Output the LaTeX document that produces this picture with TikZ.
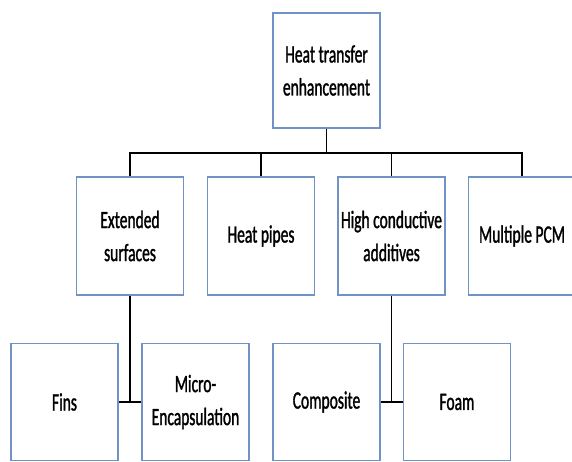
\documentclass[tikz,border=0pt]{standalone}
\usepackage{fontspec}
\setmainfont{Carlito}[FakeStretch=0.62, FakeBold=1.2]
\usepackage{tikz}

\definecolor{boxblue}{RGB}{112,146,196}

\begin{document}
\begin{tikzpicture}[x=1pt, y=-1pt,
	box/.style={draw=boxblue, line width=1.6pt, fill=white, minimum width=107pt,
		minimum height=116pt, inner sep=2pt, align=center, font=\fontsize{25}{33}\selectfont},
	link/.style={black, line width=1.3pt},
	bus/.style={black, line width=2.4pt}]
	% page
	\useasboundingbox (0, 0) rectangle (572, 462);
	\fill [white] (0, 0) rectangle (572, 462);
	\clip (0, 0) rectangle (572, 462);

	% top box
	\node[box, minimum height=115pt] (top) at (326.5, 70.5) {Heat transfer\\enhancement};

	% second row
	\node[box, minimum height=118pt] (ext) at (130, 236) {Extended\\surfaces};
	\node[box, minimum height=118pt] (pipes) at (261, 236) {Heat pipes};
	\node[box, minimum height=118pt] (add) at (391.5, 236) {High conductive\\additives};
	\node[box, minimum height=118pt] (pcm) at (522, 236) {Multiple PCM};

	% third row
	\node[box, minimum height=117pt] (fins) at (64.5, 402) {Fins};
	\node[box, minimum height=117pt] (micro) at (195.5, 402) {Micro-\\Encapsulation};
	\node[box, minimum height=117pt] (comp) at (326.5, 402) {Composite};
	\node[box, minimum height=117pt] (foam) at (457, 402) {Foam};

	% connectors
	\coordinate (bar) at (326.5, 153);
	\draw [link] (top.south) -- (top.south |- bar);
	\draw [bus] ([xshift=-1pt]ext.north |- bar) -- ([xshift=1pt]pcm.north |- bar);
	\foreach \n in {ext, pipes, add, pcm}
		\draw [link] (\n.north |- bar) -- (\n.north);

	\draw [link] (ext.south) -- (ext.south |- fins.east);
	\draw [link] (fins.east) -- (micro.west);
	\draw [link] (add.south) -- (add.south |- comp.east);
	\draw [link] (comp.east) -- (foam.west);
\end{tikzpicture}
\end{document}
